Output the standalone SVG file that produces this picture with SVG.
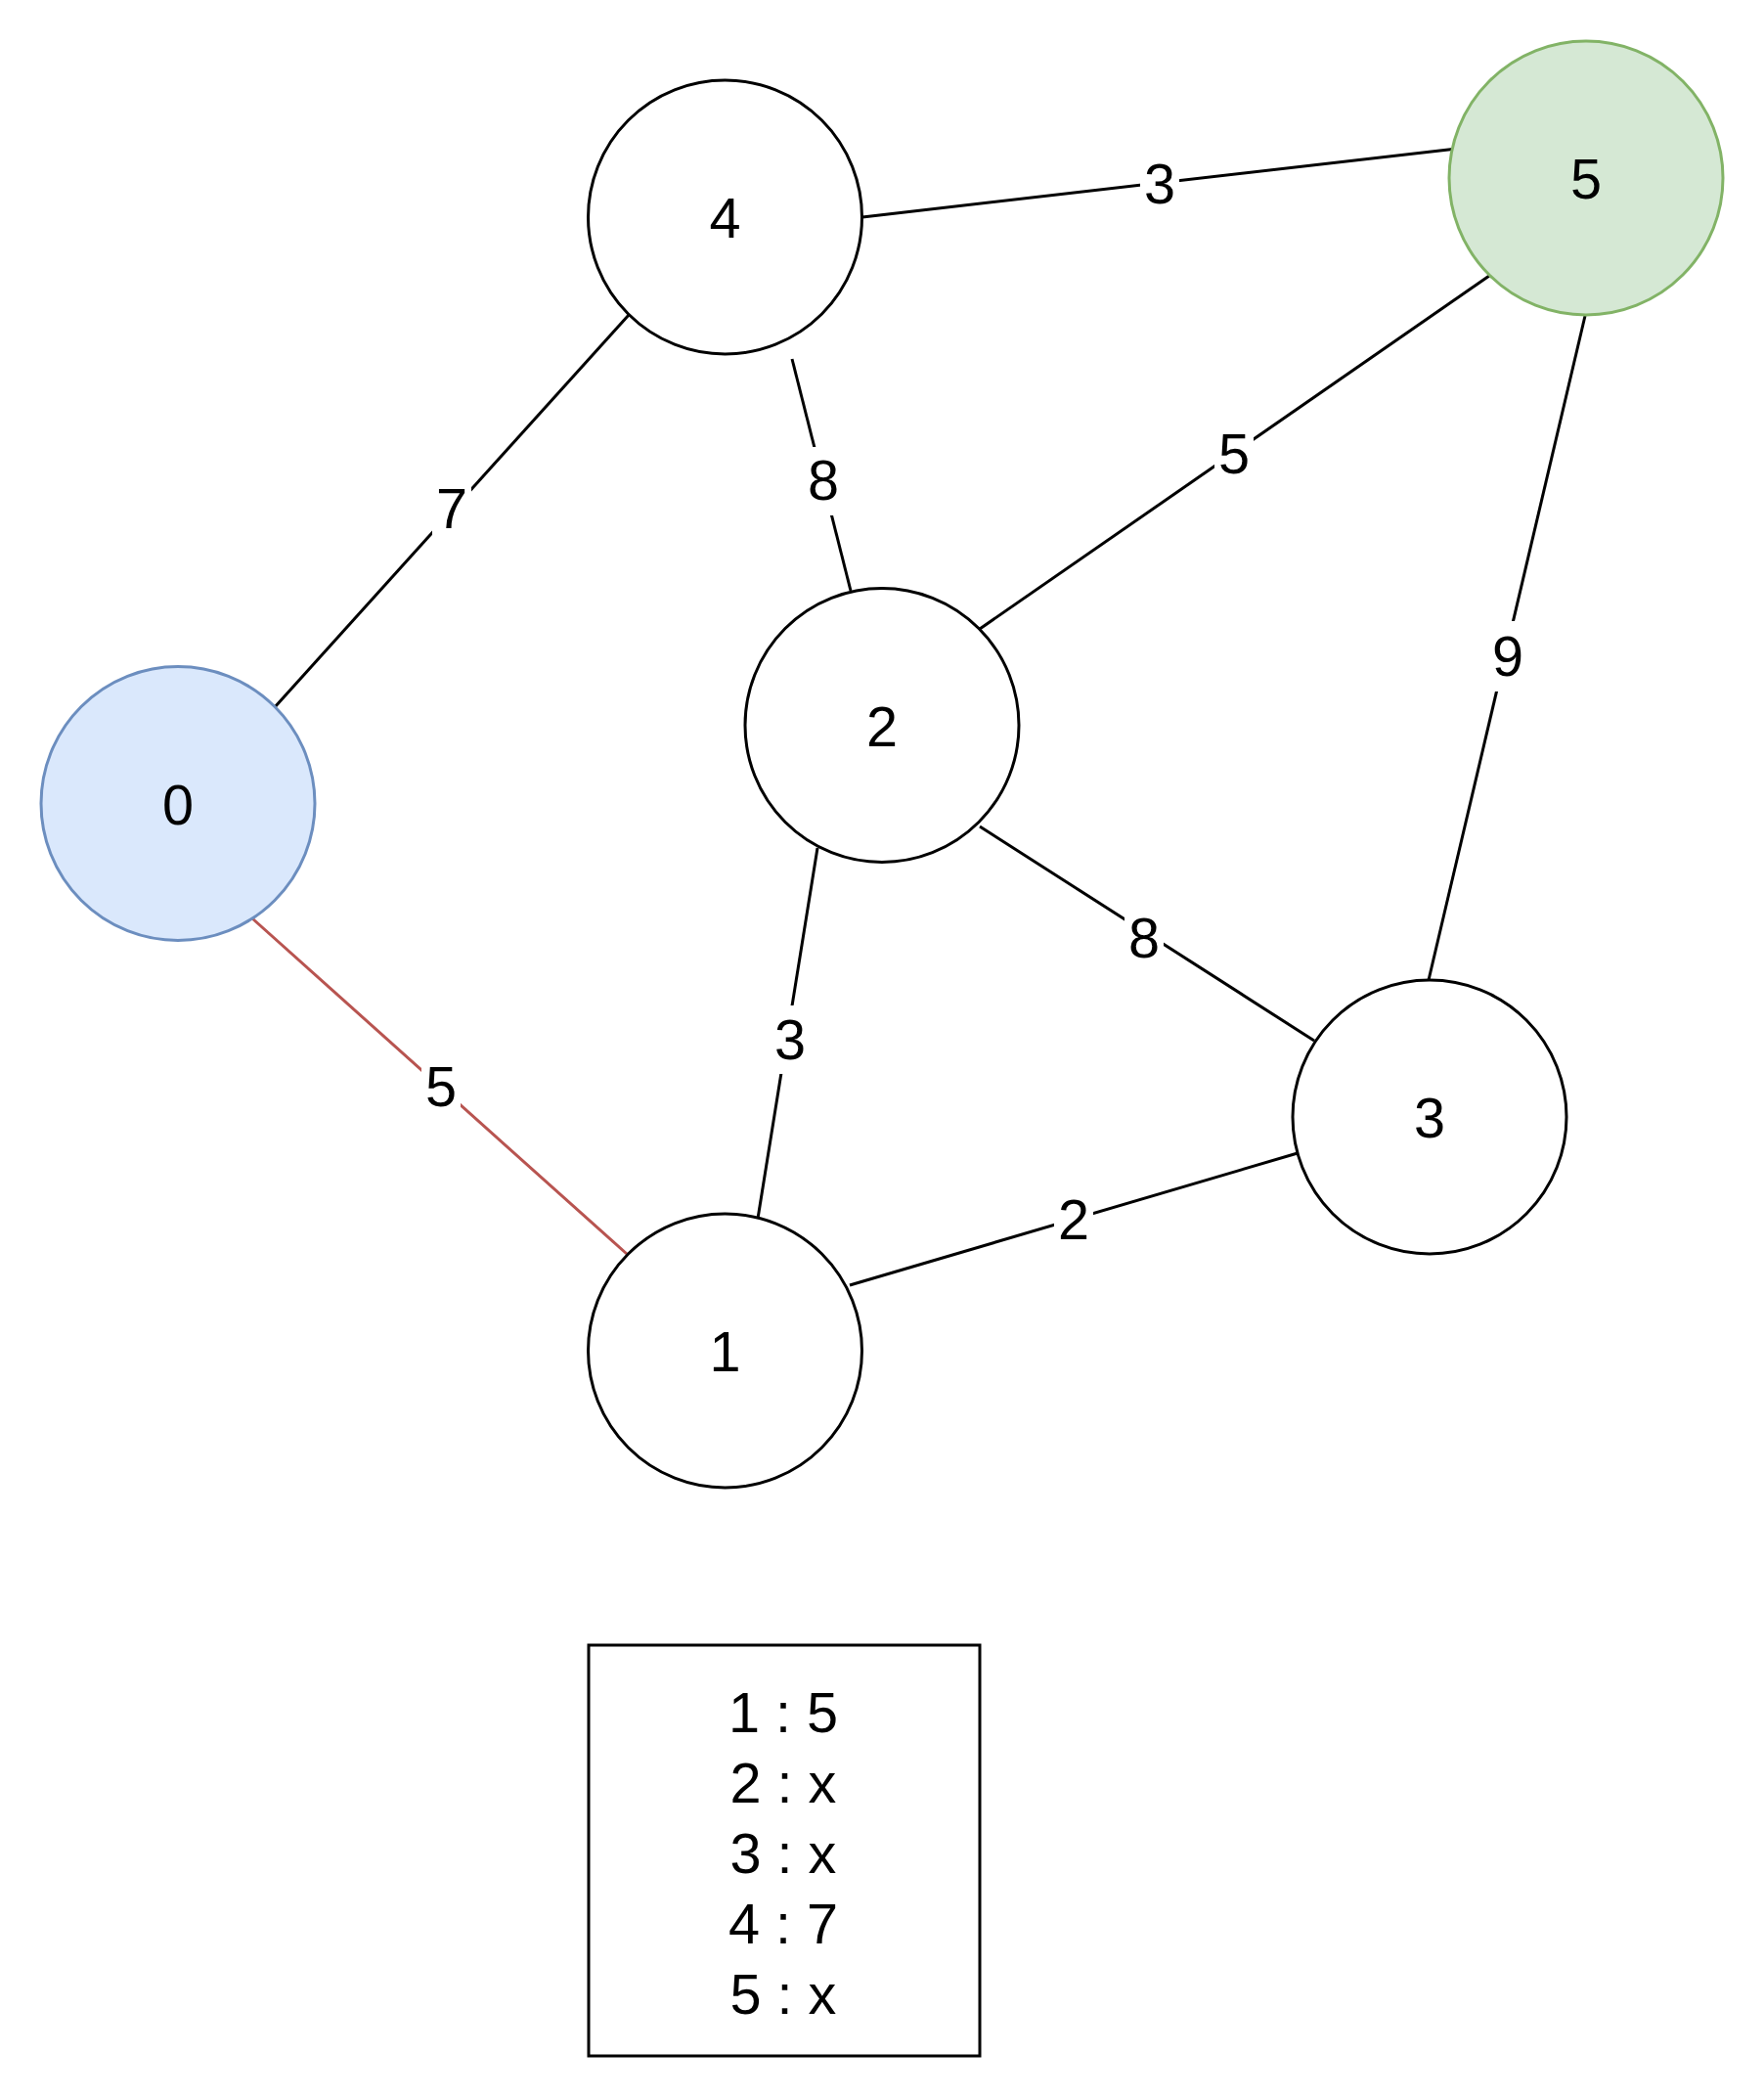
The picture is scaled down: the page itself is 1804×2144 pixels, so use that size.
<svg xmlns="http://www.w3.org/2000/svg" width="1804" height="2144" viewBox="0 0 1804 2144">
<style>
.n{fill:#ffffff;stroke:#000000;stroke-width:3}
.blue{fill:#dae8fc;stroke:#6c8ebf}
.green{fill:#d5e8d4;stroke:#82b366}
.e{stroke:#000000;stroke-width:3;fill:none}
.red{stroke:#b85450}
.bg{fill:#ffffff}
text{font-family:"Liberation Sans",Arial,sans-serif;font-size:57.6px;fill:#000000;text-anchor:middle}
</style>
<rect width="1804" height="2144" fill="#ffffff"/>
<g id="connectors">
<line class="e" x1="882" y1="222" x2="1490" y2="152"/>
<line class="e" x1="643" y1="322" x2="281" y2="723"/>
<line class="e" x1="810" y1="367" x2="870" y2="604"/>
<line class="e" x1="836" y1="867" x2="774" y2="1252"/>
<line class="e red" x1="258" y1="939" x2="641" y2="1282"/>
<line class="e" x1="1002" y1="643" x2="1523" y2="282"/>
<line class="e" x1="1621" y1="323" x2="1461" y2="1002"/>
<line class="e" x1="1002" y1="845" x2="1344" y2="1064"/>
<line class="e" x1="869" y1="1314" x2="1327" y2="1179"/>
<g id="edge-labels">
<rect class="bg" x="1166" y="158" width="40" height="60"/><text x="1186" y="208">3</text>
<rect class="bg" x="442" y="486" width="40" height="68"/><text x="462" y="540">7</text>
<rect class="bg" x="822" y="457" width="40" height="70"/><text x="842" y="511">8</text>
<rect class="bg" x="788" y="1028" width="40" height="70"/><text x="808" y="1083">3</text>
<rect class="bg" x="431" y="1077" width="40" height="68"/><text x="451" y="1131">5</text>
<rect class="bg" x="1242" y="430" width="40" height="68"/><text x="1262" y="484">5</text>
<rect class="bg" x="1522" y="635" width="40" height="72"/><text x="1542" y="691">9</text>
<rect class="bg" x="1150" y="925" width="40" height="68"/><text x="1170" y="979">8</text>
<rect class="bg" x="1078" y="1214" width="40" height="66"/><text x="1098" y="1267">2</text>
</g>
</g>
<g id="node-4"><circle class="n" cx="741.5" cy="222" r="140"/><text x="741.5" y="243">4</text></g>
<g id="node-5"><circle class="n green" cx="1622" cy="182" r="140"/><text x="1622" y="203">5</text></g>
<g id="node-2"><circle class="n" cx="902" cy="741.5" r="140"/><text x="902" y="762.5">2</text></g>
<g id="node-0"><circle class="n blue" cx="182" cy="821.5" r="140"/><text x="182" y="842.5">0</text></g>
<g id="node-3"><circle class="n" cx="1462" cy="1142" r="140"/><text x="1462" y="1163">3</text></g>
<g id="node-1"><circle class="n" cx="741.5" cy="1381" r="140"/><text x="741.5" y="1402">1</text></g>
<g id="legend">
<rect x="602" y="1682" width="400" height="420" fill="#ffffff" stroke="#000000" stroke-width="3"/>
<text x="801" y="1771">1 : 5</text>
<text x="801" y="1843">2 : x</text>
<text x="801" y="1915">3 : x</text>
<text x="801" y="1987">4 : 7</text>
<text x="801" y="2059">5 : x</text>
</g>
</svg>
